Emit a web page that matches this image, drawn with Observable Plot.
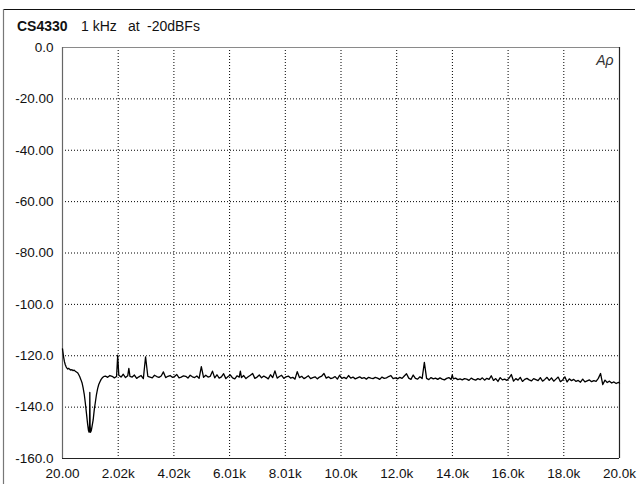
<!DOCTYPE html>
<html><head><meta charset="utf-8">
<script src="https://cdn.jsdelivr.net/npm/d3@7"></script>
<script src="https://cdn.jsdelivr.net/npm/@observablehq/plot@0.6"></script>
<style>
body{margin:0;background:#fff;}
#chart svg{display:block;}
#chart g[aria-label="tick labels"] text{letter-spacing:1px;}
</style>
</head><body><div id="chart"></div>
<script>
// ---- data ----
const freqHz = [
  20,35,60,90,120,150,180,210,240,280,
  320,360,400,440,480,520,560,600,640,680,
  720,760,800,840,880,920,950,975,990,1000,
  1010,1025,1050,1080,1120,1160,1200,1240,1280,1320,
  1360,1400,1440,1480,1520,
  1560,1640,1720,1800,1880,1960,2000,2040,2120,2200,2280,
  2360,2400,2440,2520,2600,2680,2760,2840,2920,3000,3080,
  3160,3240,3320,3400,3480,3560,3640,3720,3800,3880,
  3960,4040,4120,4200,4280,4360,4440,4520,4600,4680,
  4760,4840,4920,5000,5080,5160,5240,5320,5400,5480,
  5560,5640,5720,5800,5880,5960,6040,6120,6200,6280,
  6360,6400,6440,6520,6600,6680,6760,6840,6920,7000,7080,
  7160,7240,7320,7400,7480,7560,7640,7720,7800,7880,
  7960,8040,8120,8200,8280,8360,8440,8520,8600,8680,
  8760,8840,8920,9000,9080,9160,9240,9320,9400,9480,
  9560,9640,9720,9800,9880,9960,10040,10120,10200,10280,
  10360,10440,10520,10600,10680,10760,10840,10920,11000,11080,
  11160,11240,11320,11400,11480,11560,11640,11720,11800,11880,
  11960,12040,12120,12200,12280,12360,12440,12520,12600,12680,
  12760,12840,12920,13000,13080,13160,13240,13320,13400,13480,
  13560,13640,13720,13800,13880,13960,14000,14040,14120,14200,14280,
  14360,14440,14520,14600,14680,14760,14840,14920,15000,15080,
  15160,15240,15320,15400,15480,15560,15640,15720,15800,15880,
  15960,16040,16120,16200,16280,16360,16440,16520,16600,16680,
  16760,16840,16920,17000,17080,17160,17240,17320,17400,17480,
  17560,17640,17720,17800,17880,17960,18040,18120,18200,18280,
  18360,18440,18520,18600,18680,18760,18840,18920,19000,19080,
  19160,19240,19320,19400,19480,19560,19640,19720,19800,19880,
  19960,20000
];
const levelDb = [
  -117.3,-118.5,-120.5,-122.3,-123.5,-124.3,-124.8,-125.2,-124.9,-125.3,
  -125.6,-125.4,-125.8,-125.6,-126.0,-126.3,-126.6,-127.3,-128.2,-129.3,
  -130.5,-132.5,-135.0,-138.5,-142.5,-146.5,-149.0,-149.8,-147.0,-134.3,
  -147.0,-149.8,-149.2,-147.5,-145.0,-141.0,-138.0,-135.0,-132.8,-131.2,
  -130.2,-129.3,-128.7,-128.3,-128.0,
  -127.9,-128.4,-127.7,-128.0,-128.6,-128.1,-119.8,-127.6,-128.3,-127.2,-128.5,
  -127.8,-124.9,-128.0,-128.3,-127.5,-128.8,-128.2,-127.7,-128.9,-120.4,-128.0,
  -128.3,-128.6,-127.6,-128.1,-128.4,-127.9,-126.3,-128.5,-128.0,-127.7,
  -128.4,-128.1,-127.3,-128.6,-128.3,-127.8,-128.0,-128.7,-127.6,-128.2,
  -128.5,-127.9,-128.8,-124.2,-128.4,-127.6,-128.3,-128.0,-126.0,-128.6,
  -127.4,-128.7,-128.2,-127.0,-128.9,-128.1,-127.5,-128.6,-129.0,-127.8,
  -128.3,-126.0,-128.5,-127.7,-128.9,-128.2,-127.6,-126.9,-128.8,-128.3,-127.5,
  -128.6,-127.9,-128.4,-129.0,-127.4,-128.5,-125.9,-128.7,-128.1,-127.6,
  -128.8,-128.2,-127.9,-128.7,-128.4,-129.1,-126.2,-128.5,-128.0,-128.9,
  -128.4,-127.8,-128.9,-128.5,-128.2,-129.0,-128.3,-127.9,-126.9,-128.7,
  -128.2,-128.9,-128.6,-128.1,-129.1,-127.6,-128.8,-128.4,-128.9,-127.7,
  -128.7,-128.3,-129.0,-128.6,-128.2,-128.8,-128.5,-129.1,-128.4,-128.7,
  -128.9,-128.4,-128.7,-129.2,-128.3,-128.8,-128.6,-128.1,-127.7,-128.9,
  -128.6,-129.0,-128.4,-128.8,-127.9,-127.0,-128.7,-129.2,-127.5,-128.8,
  -129.1,-128.2,-128.9,-122.6,-128.8,-129.3,-128.5,-129.0,-128.7,-129.2,
  -128.6,-129.1,-129.4,-128.8,-128.5,-129.2,-127.5,-129.0,-128.7,-129.3,-129.0,
  -129.4,-128.9,-129.1,-129.6,-128.7,-129.2,-129.5,-128.9,-129.3,-128.6,
  -129.5,-128.8,-129.2,-127.8,-129.6,-128.9,-130.0,-128.5,-129.4,-129.1,
  -129.6,-128.7,-127.3,-129.9,-128.9,-129.5,-128.4,-130.0,-129.2,-128.8,
  -129.4,-129.8,-128.9,-129.3,-129.7,-128.5,-129.9,-129.2,-128.4,-129.6,
  -128.6,-129.9,-129.1,-128.3,-130.1,-129.4,-128.2,-130.2,-129.0,-129.7,
  -129.2,-130.0,-129.6,-130.3,-129.1,-130.2,-129.8,-129.4,-130.1,-129.7,
  -130.0,-128.8,-126.9,-131.2,-129.5,-130.4,-129.9,-130.6,-130.2,-130.8,
  -130.4,-130.6
];
const xTicks = [20, 2018, 4016, 6014, 8012, 10010, 12008, 14006, 16004, 18002, 20000];
const xTickLabels = ["20.00","2.02k","4.02k","6.01k","8.01k","10.0k","12.0k","14.0k","16.0k","18.0k","20.0k"];
const yTicks = [0, -20, -40, -60, -80, -100, -120, -140, -160];
const yTickLabels = ["0.0","-20.00","-40.00","-60.00","-80.00","-100.0","-120.0","-140.0","-160.0"];
const titleParts = ["CS4330", "1 kHz", "at", "-20dBFs"];
const logoText = "A\u03c1";

// ---- chart ----
const data = freqHz.map((f, i) => ({f, db: levelDb[i]}));
const W = 637, H = 484;
const chart = Plot.plot({
  width: W, height: H,
  marginLeft: 62, marginRight: 18, marginTop: 47, marginBottom: 26,
  style: {fontFamily: "'Liberation Sans', Arial, sans-serif", fontSize: "13px", color: "#111", background: "#fff"},
  x: {type: "linear", domain: [20, 20000], axis: null},
  y: {domain: [-160, 0], axis: null},
  marks: [
    Plot.gridX(xTicks.slice(1, -1), {stroke: "#000", strokeOpacity: 1, strokeDasharray: "1,2"}),
    Plot.gridY(yTicks.slice(1, -1), {stroke: "#000", strokeOpacity: 1, strokeDasharray: "1,2"}),
    Plot.text(xTicks, {x: d => d, text: (d, i) => xTickLabels[i], frameAnchor: "bottom",
      dy: 19, fontSize: 13.5, fill: "#111", ariaLabel: "tick labels"}),
    Plot.text(yTicks, {y: d => d, text: (d, i) => yTickLabels[i], frameAnchor: "left",
      dx: -9, textAnchor: "end", fontSize: 13.5, fill: "#111", ariaLabel: "tick labels"}),
    Plot.ruleY([0], {stroke: "#8a8a8a", strokeWidth: 1.2}),
    Plot.ruleX([20], {stroke: "#666", strokeWidth: 1.2}),
    Plot.ruleX([20000], {stroke: "#222", strokeWidth: 1.2}),
    Plot.ruleY([-160], {stroke: "#222", strokeWidth: 1.2}),
    Plot.line(data, {x: "f", y: "db", stroke: "#000", strokeWidth: 1.3}),
    Plot.text([logoText], {frameAnchor: "top-right", dx: -6, dy: 8, fontSize: 14,
      fontStyle: "italic", fill: "#333", textAnchor: "end"})
  ]
});
document.getElementById("chart").appendChild(chart);

const svg = d3.select(chart);
svg.selectAll('g[aria-label="tick labels"] text').attr("letter-spacing", "0.8");

// outer border (top and left) and title in the margin
svg.append("line").attr("x1", 3).attr("x2", 635).attr("y1", 9.5).attr("y2", 9.5)
  .attr("stroke", "#111").attr("stroke-width", 1.2);
svg.append("line").attr("x1", 3.5).attr("x2", 3.5).attr("y1", 9).attr("y2", H)
  .attr("stroke", "#777").attr("stroke-width", 1.2);
const tx = [17, 81, 128, 147];
const t = svg.append("text").attr("y", 30.5).attr("text-anchor", "start")
  .attr("font-family", "'Liberation Sans', Arial, sans-serif").attr("font-size", 14).attr("fill", "#111");
titleParts.forEach((p, i) => {
  t.append("tspan").attr("x", tx[i]).attr("text-anchor", "start")
    .attr("font-weight", i === 0 ? "bold" : "normal").text(p);
});
</script>
</body></html>
